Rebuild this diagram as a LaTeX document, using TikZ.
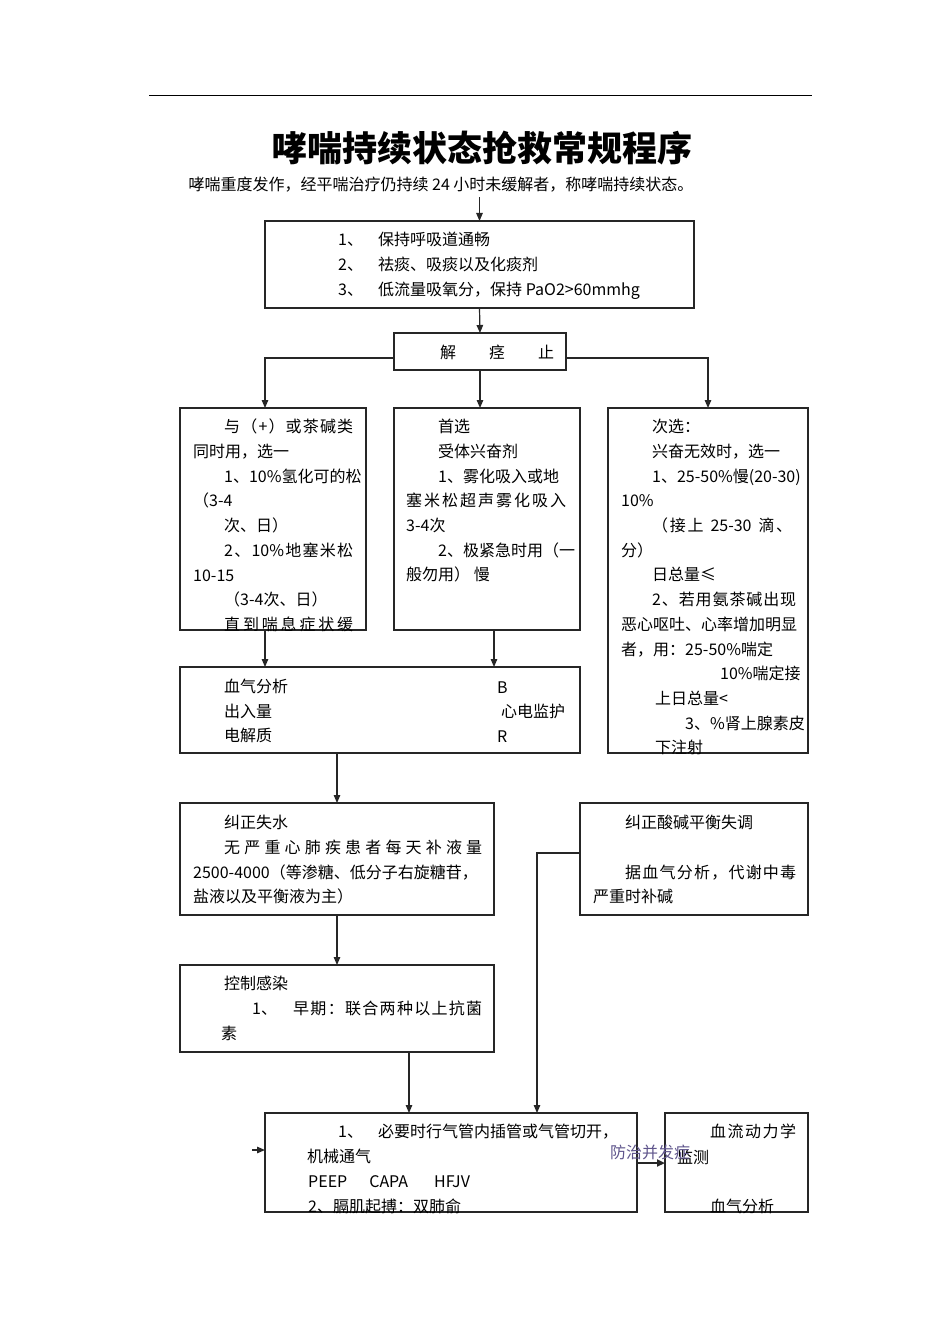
\documentclass[tikz,border=0pt]{standalone}
\usepackage{fontspec}
\setmainfont{Noto Sans CJK SC}
\usetikzlibrary{arrows.meta}
\definecolor{fzc}{RGB}{95,85,140}
\newcommand\jzs[2]{\makebox[#1][s]{\jzsloop#2\relax}}
\def\jzsloop#1{\ifx\relax#1\else#1\expandafter\jzsnext\fi}
\def\jzsnext#1{\ifx\relax#1\else\hfil#1\expandafter\jzsnext\fi}
\begin{document}
\begin{tikzpicture}[x=1pt,y=-1pt,
  box/.style={draw=black!85, line width=1.2pt, inner sep=0pt, outer sep=0pt},
  thickbox/.style={draw=black!85, line width=1.8pt, inner sep=0pt, outer sep=0pt},
  tx/.style={anchor=west, inner sep=0pt, font=\fontsize{16}{16}\selectfont, text height=14pt, text depth=2pt},
  arr/.style={draw=black!85, line width=1.2pt, -{Triangle[length=8pt,width=6.5pt]}},
  thickarr/.style={draw=black!85, line width=2.6pt, -{Triangle[length=8pt,width=7pt]}}]
\useasboundingbox[fill=white] (0,0) rectangle (945,1337);

% top rule
\draw[line width=1pt] (149,96) -- (812,96);

% title and intro
\node[font=\fontsize{35}{35}\selectfont\bfseries, inner sep=0pt] (title) at (482,148) {哮喘持续状态抢救常规程序};
\node[font=\fontsize{16}{16}\selectfont, text height=14pt, text depth=2pt, inner sep=4pt] (sub) at (441,185) {哮喘重度发作，经平喘治疗仍持续 24 小时未缓解者，称哮喘持续状态。};

% boxes
\node[box, minimum width=429pt, minimum height=87pt] (box1) at (479.5,264.5) {};
\node[box, minimum width=172pt, minimum height=37pt] (jz) at (480,351.5) {};
\node[box, minimum width=186pt, minimum height=222pt] (L) at (273,519) {};
\node[box, minimum width=186pt, minimum height=222pt] (M) at (487,519) {};
\node[box, minimum width=200pt, minimum height=345pt] (R) at (708,580.5) {};
\node[box, minimum width=400pt, minimum height=86pt] (B4) at (380,710) {};
\node[box, minimum width=314pt, minimum height=112pt] (B5) at (337,859) {};
\node[box, minimum width=314pt, minimum height=87pt] (B6) at (337,1008.5) {};
\node[box, minimum width=228pt, minimum height=112pt] (BA) at (694,859) {};
\node[thickbox, minimum width=372pt, minimum height=99pt] (B7) at (451,1162.5) {};
\node[thickbox, minimum width=143pt, minimum height=99pt] (B8) at (736.5,1162.5) {};

% box1 text
\node[tx] (a1) at (338,240) {\makebox[40pt][l]{1、}保持呼吸道通畅};
\node[tx] (a2) at (338,265) {\makebox[40pt][l]{2、}祛痰、吸痰以及化痰剂};
\node[tx] (a3) at (338,290) {\makebox[40pt][l]{3、}低流量吸氧分，保持 PaO2>60mmhg};

% jz text
\node[tx] (jzt) at (440,352) {解\hspace{33pt}痉\hspace{33pt}止};

% left box text
\node[tx] (l1) at (224,426) {\jzs{129pt}{与（+）或茶碱类}};
\node[tx] (l2) at (193,451) {同时用，选一};
\node[tx] (l3) at (224,476) {1、10\%氢化可的松};
\node[tx] (l4) at (193,500) {（3-4};
\node[tx] (l5) at (224,525) {次、日）};
\node[tx] (l6) at (224,550) {\jzs{129pt}{2、{10\%}地塞米松}};
\node[tx] (l7) at (193,575) {10-15};
\node[tx] (l8) at (224,599) {（3-4次、日）};
\node[tx] (l9) at (224,624) {\jzs{129pt}{直到喘息症状缓}};

% middle box text
\node[tx] (m1) at (438,426) {首选};
\node[tx] (m2) at (438,451) {受体兴奋剂};
\node[tx] (m3) at (438,476) {1、雾化吸入或地};
\node[tx] (m4) at (406,500) {\jzs{160pt}{塞米松超声雾化吸入}};
\node[tx] (m5) at (406,525) {3-4次};
\node[tx] (m6) at (438,550) {2、极紧急时用（一};
\node[tx] (m7) at (406,574) {般勿用） 慢};

% right box text
\node[tx] (n1) at (652,426) {次选：};
\node[tx] (n2) at (652,451) {兴奋无效时，选一};
\node[tx] (n3) at (652,476) {1、25-50\%慢(20-30)};
\node[tx] (n4) at (621,500) {10\%};
\node[tx] (n5) at (652,525) {\jzs{140pt}{（接上{ }{25-30}{ }滴、}};
\node[tx] (n6) at (621,550) {分）};
\node[tx] (n7) at (652,574) {日总量≤};
\node[tx] (n8) at (652,599) {\jzs{144pt}{2、若用氨茶碱出现}};
\node[tx] (n9) at (621,624) {恶心呕吐、心率增加明显};
\node[tx] (n10) at (621,649) {者，用：25-50\%喘定};
\node[tx] (n11) at (720,673) {10\%喘定接};
\node[tx] (n12) at (655,698) {上日总量<};
\node[tx] (n13) at (685,723) {3、\%肾上腺素皮};
\node[tx] (n14) at (655,747) {下注射};

% B4 text
\node[tx] (b41) at (224,686) {血气分析};
\node[tx] (b42) at (224,711) {出入量};
\node[tx] (b43) at (224,735) {电解质};
\node[tx] (b44) at (497,687) {B};
\node[tx] (b45) at (501,711) {心电监护};
\node[tx] (b46) at (497,736) {R};

% B5 text
\node[tx] (b51) at (224,822) {纠正失水};
\node[tx] (b52) at (224,847) {\jzs{258pt}{无严重心肺疾患者每天补液量}};
\node[tx] (b53) at (193,872) {2500-4000（等渗糖、低分子右旋糖苷，};
\node[tx] (b54) at (193,896) {盐液以及平衡液为主）};

% B6 text
\node[tx] (b61) at (224,983) {控制感染};
\node[tx] (b62) at (252,1008) {\makebox[41pt][l]{1、}\jzs{189pt}{早期：联合两种以上抗菌}};
\node[tx] (b63) at (221,1033) {素};

% acid-base box text
\node[tx] (ba1) at (625,822) {纠正酸碱平衡失调};
\node[tx] (ba2) at (625,872) {\jzs{171pt}{据血气分析，代谢中毒}};
\node[tx] (ba3) at (593,896) {严重时补碱};

% B7 text
\node[tx] (b71) at (338,1131) {\makebox[40pt][l]{1、}必要时行气管内插管或气管切开，};
\node[tx] (b72) at (307,1156) {机械通气};
\node[tx] (b73) at (308,1181) {PEEP\hspace{22pt}CAPA\hspace{26pt}HFJV};
\node[tx] (b74) at (308,1206) {2、膈肌起搏：双肺俞};

% B8 text
\node[tx] (b81) at (710,1131) {\jzs{86pt}{血流动力学}};
\node[tx] (b82) at (677,1157) {监测};
\node[tx] (b83) at (710,1206) {血气分析};

% connectors
\draw[arr] (box1.north |- sub.south) -- (box1.north);
\draw[arr] (box1.south) -- (jz.north);
\draw[arr] ([yshift=-6.5pt]jz.west) -| ([xshift=-8pt]L.north);
\draw[arr] (jz.south) -- (jz.south |- M.north);
\draw[arr] ([yshift=-6.5pt]jz.east) -| (R.north);
\draw[arr] ([xshift=-8pt]L.south) -- ([xshift=-8pt]L.south |- B4.north);
\draw[arr] ([xshift=7pt]M.south) -- ([xshift=7pt]M.south |- B4.north);
\draw[arr] (B4.south -| B5.north) -- (B5.north);
\draw[arr] (B5.south) -- (B6.north);
\draw[arr] ([xshift=72pt]B6.south) -- ([xshift=72pt]B6.south |- B7.north);
\draw[arr] ([yshift=6pt]BA.west) -| ([xshift=86pt]B7.north);
\draw[thickarr] ([yshift=-0.5pt]B7.east) -- ([yshift=-0.5pt]B8.west);
\coordinate (lin) at (252,1150);
\draw[arr] (lin) -- (lin -| B7.west);

% overlay label
\node[tx, text=fzc] (fz) at (610,1152) {防治并发症};
\end{tikzpicture}
\end{document}
